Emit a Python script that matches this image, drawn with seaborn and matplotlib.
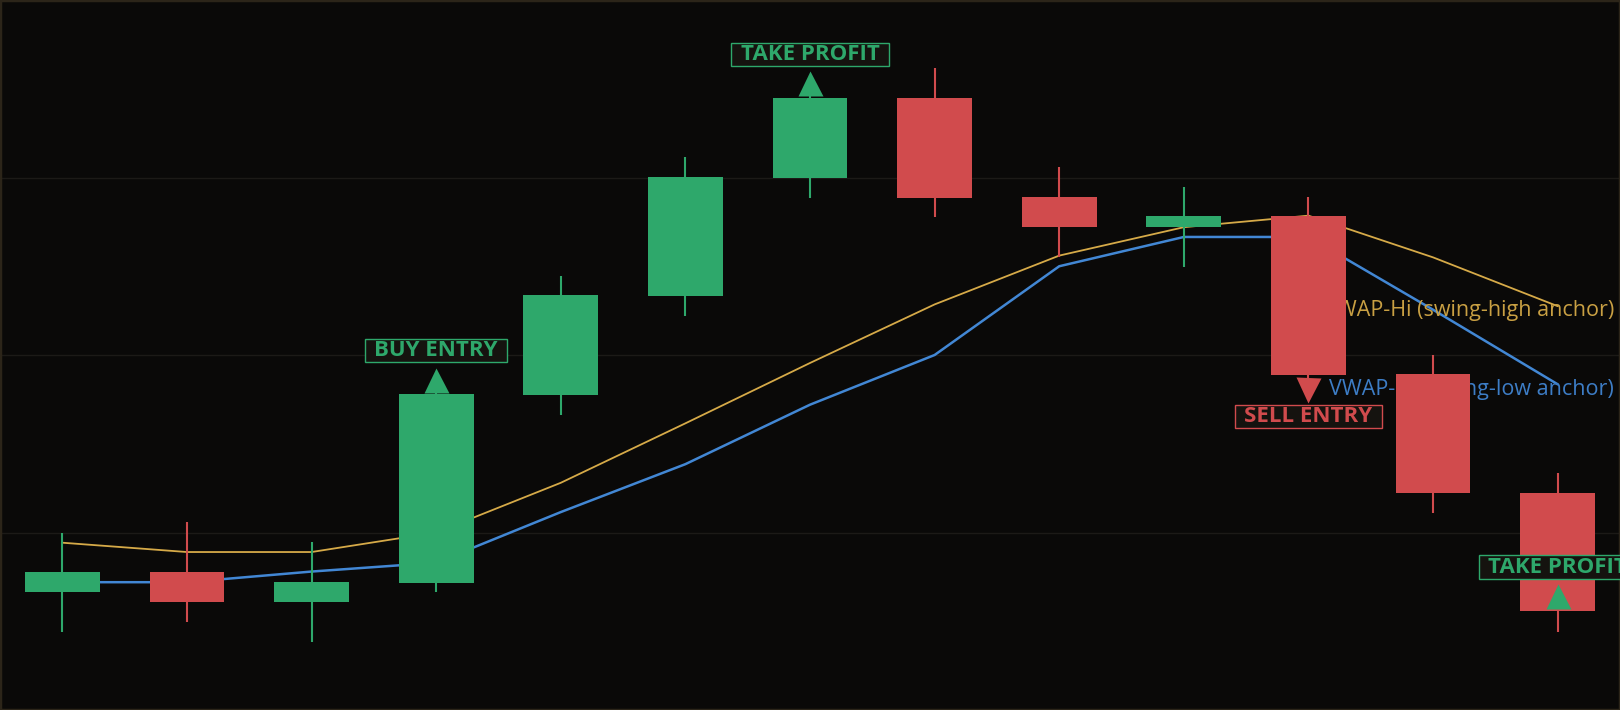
import numpy as np
import pandas as pd
import matplotlib
matplotlib.use("Agg")
import matplotlib.pyplot as plt
import seaborn as sns

# ---------------------------------------------------------------------------
# Data (price units, one candle per bar index)
# ---------------------------------------------------------------------------
bar_idx = list(range(13))
opens = [99.33, 99.56, 99.22, 99.43, 101.55, 102.67, 103.99, 104.90, 103.78, 103.44, 103.57, 101.79, 100.45]
closes = [99.56, 99.22, 99.44, 101.56, 102.68, 104.01, 104.90, 103.77, 103.44, 103.57, 101.78, 100.44, 99.11]
highs = [100.00, 100.12, 99.89, 101.60, 102.89, 104.23, 104.93, 105.23, 104.12, 103.89, 103.78, 102.00, 100.67]
lows = [98.88, 98.99, 98.77, 99.33, 101.32, 102.44, 103.77, 103.55, 103.10, 102.99, 101.74, 100.22, 98.88]

vwap_hi = [99.885, 99.78, 99.78, 100.00, 100.56, 101.23, 101.91, 102.57, 103.12, 103.44, 103.57, 103.10, 102.55]
vwap_lo = [99.44, 99.44, 99.56, 99.66, 100.23, 100.77, 101.44, 102.00, 103.00, 103.33, 103.33, 102.51, 101.67]

signal_bar = [3, 6, 10, 12]
signal_text = ["BUY ENTRY", "TAKE PROFIT", "SELL ENTRY", "TAKE PROFIT"]
signal_side = ["up", "up", "down", "up"]
signal_marker_y = [101.72, 105.06, 101.61, 99.28]
signal_label_y = [102.05, 105.39, 101.31, 99.61]

line_labels = ["VWAP-Hi (swing-high anchor)", "VWAP-Lo (swing-low anchor)"]
line_label_y = [102.44, 101.55]

# ---------------------------------------------------------------------------
# Style
# ---------------------------------------------------------------------------
BG = "#0a0908"
GREEN = "#2ea86b"
RED = "#d14b4d"
GOLD = "#d6aa48"
BLUE = "#4287d4"

sns.set_theme(style="darkgrid", rc={
    "axes.facecolor": BG,
    "figure.facecolor": BG,
    "axes.edgecolor": "#2c2519",
    "grid.color": "#1c1a17",
    "grid.linewidth": 1.0,
})
plt.rcParams["font.family"] = ["Open Sans", "DejaVu Sans"]

fig = plt.figure(figsize=(16.2, 7.1), dpi=100)
ax = fig.add_axes([0, 0, 1, 1])

df = pd.DataFrame({"bar": bar_idx, "open": opens, "close": closes,
                   "high": highs, "low": lows,
                   "vwap_hi": vwap_hi, "vwap_lo": vwap_lo})
up = df["close"] >= df["open"]
colors = np.where(up, GREEN, RED)

# VWAP lines (under the candles)
sns.lineplot(data=df, x="bar", y="vwap_hi", ax=ax, color=GOLD, lw=1.3, zorder=2)
sns.lineplot(data=df, x="bar", y="vwap_lo", ax=ax, color=BLUE, lw=1.8, zorder=2)

ax.text(12.45, line_label_y[0], line_labels[0], color="#c9a043", fontsize=15.5,
        ha="right", va="baseline", zorder=2.5)
ax.text(12.45, line_label_y[1], line_labels[1], color="#3d7dc6", fontsize=15.5,
        ha="right", va="baseline", zorder=2.5)

# candles
ax.vlines(df["bar"], df["low"], df["high"], colors=colors, lw=1.5, zorder=3)
body_lo = df[["open", "close"]].min(axis=1)
body_h = (df["close"] - df["open"]).abs()
ax.bar(df["bar"], body_h, bottom=body_lo, width=0.6, color=colors,
       edgecolor="none", linewidth=0, zorder=3.1)

# signals
for b, txt, side, my, ly in zip(signal_bar, signal_text, signal_side,
                                signal_marker_y, signal_label_y):
    c = GREEN if side == "up" else RED
    ax.plot(b, my, marker="^" if side == "up" else "v", ms=18, color=c,
            mec="none", zorder=4)
    ax.text(b, ly, txt, color=c, fontsize=16, fontweight="bold",
            ha="center", va="center", zorder=5,
            bbox=dict(boxstyle="square,pad=0.42", fc="#15130f", ec=c, lw=1.0,
                      mutation_aspect=0.12))

ax.set_xlim(-0.5, 12.5)
ax.set_ylim(98, 106)
ax.set_yticks([100, 102, 104])
ax.set_xticks([])
ax.grid(axis="x", visible=False)
ax.tick_params(labelleft=False, left=False, bottom=False)
ax.set_xlabel("")
ax.set_ylabel("")
for s in ax.spines.values():
    s.set_visible(True)
    s.set_linewidth(2.5)
    s.set_color("#2c2519")

fig.savefig("out.png", dpi=100, facecolor=BG)
